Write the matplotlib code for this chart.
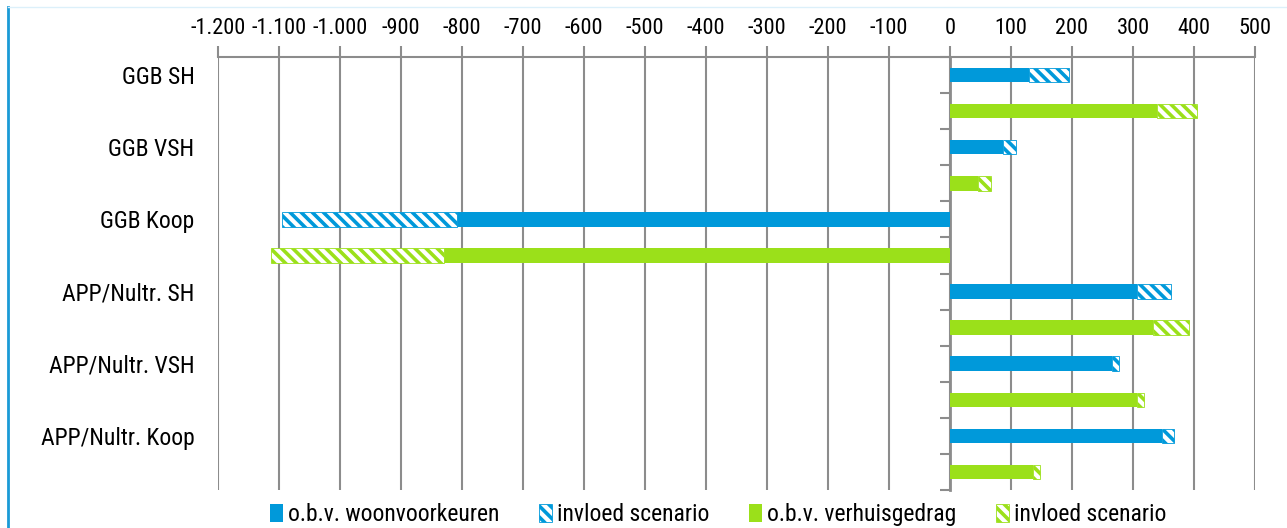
import matplotlib
matplotlib.use("Agg")
import matplotlib.pyplot as plt
from matplotlib.lines import Line2D
from matplotlib.patches import Patch
from matplotlib.ticker import FuncFormatter

# Categories (top to bottom) and values per series
categories = ["GGB SH", "GGB VSH", "GGB Koop",
              "APP/Nultr. SH", "APP/Nultr. VSH", "APP/Nultr. Koop"]
woonvoorkeuren = [130, 87, -808, 307, 266, 347]
scenario_wv = [65, 21, -287, 55, 11, 20]
verhuisgedrag = [340, 46, -830, 333, 307, 136]
scenario_vg = [65, 21, -283, 59, 11, 12]

x_ticks = list(range(-1200, 501, 100))

BLUE = "#0099da"
GREEN = "#9be01a"
GRID = "#8c8c8c"
HATCH = "\\\\\\"

plt.rcParams["font.family"] = ["Roboto Condensed", "Liberation Sans Narrow",
                               "DejaVu Sans Condensed", "Roboto", "DejaVu Sans"]
plt.rcParams["font.stretch"] = "condensed"
plt.rcParams["hatch.linewidth"] = 2.6


def dutch_thousands(v, pos):
    return f"{v:,.0f}".replace(",", ".")


fig = plt.figure(figsize=(12.87, 5.28), dpi=100)
ax = fig.add_axes([0.1694, 0.072, 0.8057, 0.820])

n = len(categories)
pos_wv = [2 * i for i in range(n)]
pos_vg = [2 * i + 1 for i in range(n)]
h = 0.4

ax.barh(pos_wv, woonvoorkeuren, height=h, color=BLUE, linewidth=0)
ax.barh(pos_wv, scenario_wv, left=woonvoorkeuren, height=h, color="white",
        edgecolor=BLUE, hatch=HATCH, linewidth=0.6)
ax.barh(pos_vg, verhuisgedrag, height=h, color=GREEN, linewidth=0)
ax.barh(pos_vg, scenario_vg, left=verhuisgedrag, height=h, color="white",
        edgecolor=GREEN, hatch=HATCH, linewidth=0.6)

ax.set_xlim(-1200, 500)
ax.set_ylim(2 * n - 0.5, -0.5)

# value axis on top
ax.xaxis.tick_top()
ax.set_xticks(x_ticks)
ax.xaxis.set_major_formatter(FuncFormatter(dutch_thousands))
ax.tick_params(axis="x", which="major", length=8, width=1.5, color=GRID,
               labelsize=16, pad=5)
ax.grid(axis="x", color=GRID, linewidth=1.5)
ax.set_axisbelow(True)

for side in ["left", "right", "bottom"]:
    ax.spines[side].set_visible(False)
ax.spines["top"].set_color(GRID)
ax.spines["top"].set_linewidth(1.5)

# category labels on the left
ax.set_yticks(pos_wv)
ax.set_yticklabels(categories)
ax.tick_params(axis="y", length=0, labelsize=17, pad=17)

# category axis drawn at zero with ticks between the bars
x0, x1 = ax.get_xlim()
zero_ax = ax.secondary_yaxis((0 - x0) / (x1 - x0))
zero_ax.set_alignment("left")
zero_ax.set_yticks([i - 0.5 for i in range(2 * n + 1)])
zero_ax.set_yticklabels([])
zero_ax.tick_params(length=7, width=1.5, color=GRID, direction="out")
zero_ax.spines["left"].set_color(GRID)
zero_ax.spines["left"].set_linewidth(2)

handles = [
    Patch(facecolor=BLUE, label="o.b.v. woonvoorkeuren"),
    Patch(facecolor="white", edgecolor=BLUE, hatch=HATCH, linewidth=0.6,
          label="invloed scenario"),
    Patch(facecolor=GREEN, label="o.b.v. verhuisgedrag"),
    Patch(facecolor="white", edgecolor=GREEN, hatch=HATCH, linewidth=0.6,
          label="invloed scenario"),
]
fig.legend(handles=handles, loc="lower center", bbox_to_anchor=(0.558, -0.037),
           ncol=4, frameon=False, fontsize=17, handlelength=0.55,
           handleheight=0.8, handletextpad=0.2, columnspacing=1.7)

# chart frame
fig.add_artist(Line2D([0.0066, 0.0066], [0, 0.987], color="#1a9ad6", lw=2))
fig.add_artist(Line2D([0.0066, 1], [0.987, 0.987], color="#dcf0fa", lw=1))

fig.savefig("out.png", dpi=100)
